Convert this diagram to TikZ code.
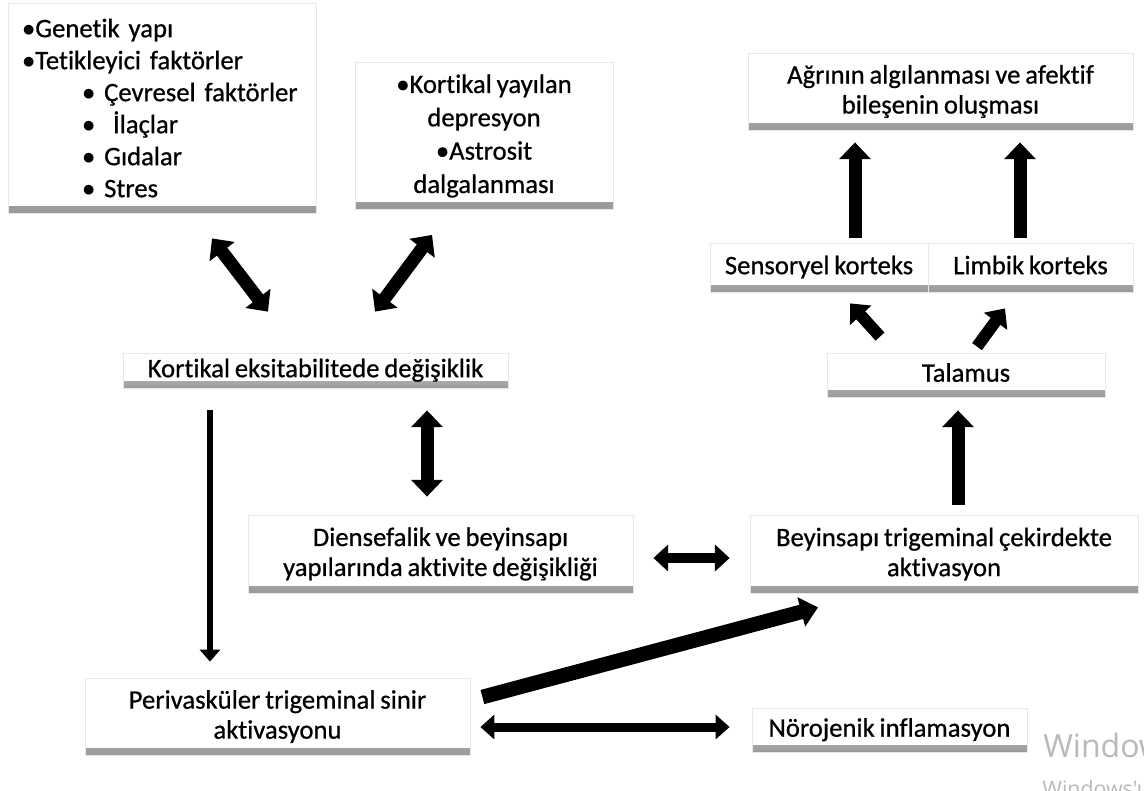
\documentclass[tikz,border=0pt]{standalone}
\usepackage{fontspec}
\setmainfont{Carlito}
\newfontfamily\boxfont[FakeBold=0.7,Ligatures=NoCommon,WordSpace=0.8]{Carlito}
\newfontfamily\wmfont{Open Sans}
\usetikzlibrary{arrows.meta,calc}
\tikzset{
  box/.style={draw=gray!18, line width=0.6pt, fill=white, inner sep=0pt, align=center,
    font=\boxfont\fontsize{20}{22.5}\selectfont,
    path picture={\shade[top color=gray!15, bottom color=gray!80]
      ([yshift=5pt]path picture bounding box.south west) rectangle (path picture bounding box.south east);}},
  oneline/.style={text height=14pt, text depth=4pt},
  arw/.style n args={3}{line width=#1, -{Triangle[width=#2,length=#3]}},
  darw/.style n args={3}{line width=#1, {Triangle[width=#2,length=#3]}-{Triangle[width=#2,length=#3]}},
  wm/.style={text=gray!55, inner sep=0pt, anchor=base west},
}
\begin{document}
\begin{tikzpicture}[x=0.75pt,y=-0.75pt]
\useasboundingbox[fill=white] (0,0) rectangle (1144,790);
% boxes
\node[box, text width=210pt, inner xsep=10.5pt, minimum height=157.5pt, align=left,
      font=\boxfont\fontsize{20}{24}\selectfont] (gen) at (162,108)
  {•Genetik yapı\\•Tetikleyici faktörler\\
   \hspace*{45pt}• Çevresel faktörler\\
   \hspace*{45pt}•\ \ İlaçlar\\
   \hspace*{45pt}• Gıdalar\\
   \hspace*{45pt}• Stres};
\node[box, minimum width=193.5pt, minimum height=110.25pt, font=\boxfont\fontsize{20}{25}\selectfont] (kyd) at (484,136)
  {•Kortikal yayılan\\depresyon\\•Astrosit\\dalgalanması};
\node[box, minimum width=288.75pt, minimum height=57.75pt] (agr) at (940.5,91.5)
  {Ağrının algılanması ve afektif\\bileşenin oluşması};
\node[box, oneline, minimum width=163.5pt, minimum height=36.75pt] (sens) at (819,267.5) {Sensoryel korteks};
\node[box, oneline, minimum width=153.75pt, minimum height=36.75pt] (lim) at (1030.5,267.5) {Limbik korteks};
\node[box, oneline, minimum width=208.5pt, minimum height=33pt] (tal) at (966,375) {Talamus};
\node[box, oneline, minimum width=288.75pt, minimum height=26.25pt] (kex) at (315.5,370.5) {Kortikal eksitabilitede değişiklik};
\node[box, minimum width=288.75pt, minimum height=58.5pt] (dien) at (440.5,554)
  {Diensefalik ve beyinsapı\\yapılarında aktivite değişikliği};
\node[box, minimum width=291pt, minimum height=58.5pt] (bey) at (944,554)
  {Beyinsapı trigeminal çekirdekte\\aktivasyon};
\node[box, minimum width=288.75pt, minimum height=57.75pt] (per) at (277.5,716.5)
  {Perivasküler trigeminal sinir\\aktivasyonu};
\node[box, oneline, minimum width=206.25pt, minimum height=33pt] (nor) at (889.5,730) {Nörojenik inflamasyon};
% watermark (cut at the picture's edge, as in the reference)
\node[wm, font=\wmfont\fontsize{24}{24}\selectfont] (wm1) at (1043,757) {Windows};
\node[wm, font=\wmfont\fontsize{16}{16}\selectfont] (wm2) at (1042,796) {Windows'u etkinleştir};
% arrows
\draw[darw={9.75pt}{23pt}{12.5pt}] ($(gen.south)+(50,25)$) -- ($(kex.north)+(-47.5,-41)$);
\draw[darw={9.75pt}{23pt}{12.5pt}] ($(kyd.south)+(-52,25)$) -- ($(kex.north)+(59.5,-41)$);
\draw[darw={9.75pt}{23pt}{12.5pt}] ($(kex.south)+(111.5,22)$) -- ($(dien.north)+(-13.5,-18)$);
\draw[arw={4.5pt}{15pt}{9pt}] ($(kex.south)+(-105.5,22)$) -- ($(per.north)+(-67.5,-16)$);
\draw[darw={8pt}{19.5pt}{11pt}] ($(dien.east)+(20,4)$) -- ($(bey.west)+(-20,4)$);
\draw[arw={11pt}{22pt}{13pt}] ($(per.east)+(12,-19.5)$) -- ($(bey.south)+(-126,14)$);
\draw[darw={6.75pt}{18pt}{10.5pt}] ($(per.east)+(10,10.5)$) -- ($(nor.west)+(-22,-3)$);
\draw[arw={9.75pt}{23pt}{12.5pt}] ($(bey.north)+(14,-10)$) -- ($(tal.south)+(-8,13)$);
\draw[arw={9pt}{21pt}{12pt}] ($(tal.north)+(-86,-16)$) -- ($(sens.south)+(31,11)$);
\draw[arw={9pt}{21pt}{12pt}] ($(tal.north)+(11,-6)$) -- ($(lim.south)+(-25.5,16)$);
\draw[arw={9.75pt}{23pt}{12.5pt}] ($(sens.north)+(36,-5)$) -- ($(agr.south)+(-85.5,12)$);
\draw[arw={9.75pt}{23pt}{12.5pt}] ($(lim.north)+(-10.5,-5)$) -- ($(agr.south)+(79.5,12)$);
\end{tikzpicture}
\end{document}
